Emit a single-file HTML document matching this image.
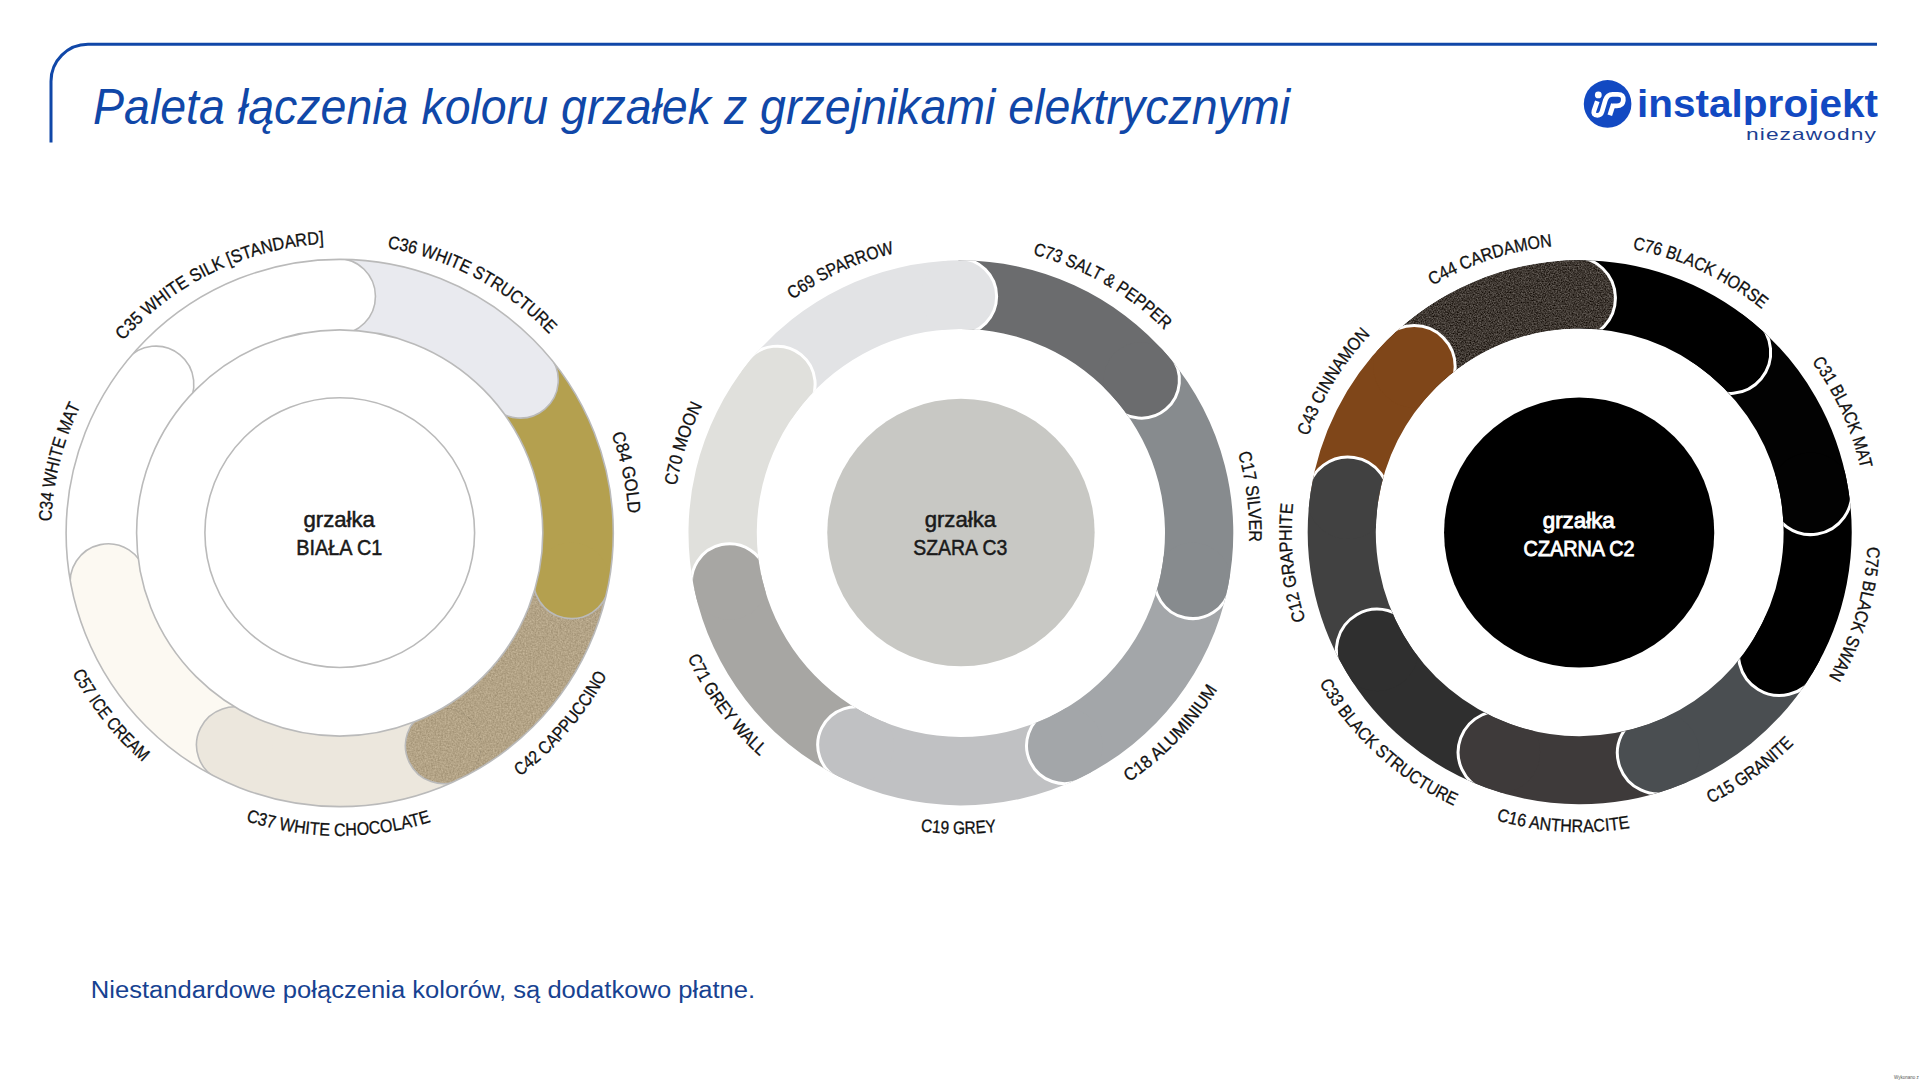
<!DOCTYPE html>
<html lang="pl"><head><meta charset="utf-8"><title>Paleta łączenia koloru grzałek z grzejnikami elektrycznymi</title>
<style>
html,body{margin:0;padding:0;background:#fff;width:1920px;height:1080px;overflow:hidden}
svg{display:block}
</style></head><body>
<svg width="1920" height="1080" viewBox="0 0 1920 1080">
<defs>
<filter id="nzA" x="0" y="0" width="1" height="1" color-interpolation-filters="sRGB">
<feTurbulence type="fractalNoise" baseFrequency="0.75" numOctaves="2" seed="7" result="t"/>
<feColorMatrix in="t" type="matrix" values="1 0 0 0 0 1 0 0 0 0 1 0 0 0 0 0 0 0 0 1" result="g"/>
<feComposite in="SourceGraphic" in2="g" operator="arithmetic" k1="0" k2="1" k3="0.55" k4="-0.275" result="m"/>
<feComposite in="m" in2="SourceGraphic" operator="in"/>
</filter>
<filter id="nzB" x="0" y="0" width="1" height="1" color-interpolation-filters="sRGB">
<feTurbulence type="fractalNoise" baseFrequency="0.6" numOctaves="2" seed="3" result="t"/>
<feColorMatrix in="t" type="matrix" values="1 0 0 0 0 1 0 0 0 0 1 0 0 0 0 0 0 0 0 1" result="g"/>
<feComposite in="SourceGraphic" in2="g" operator="arithmetic" k1="0" k2="1" k3="0.22" k4="-0.11" result="m"/>
<feComposite in="m" in2="SourceGraphic" operator="in"/>
</filter>
</defs>
<rect width="1920" height="1080" fill="#fff"/>
<path d="M51,142.5 L51,81.3 A37,37 0 0 1 88,44.3 L1877,44.3" fill="none" stroke="#1047a8" stroke-width="3"/>
<text x="93" y="124" font-family="Liberation Sans, sans-serif" font-style="italic" font-size="49.5" fill="#1047a8" textLength="1197" lengthAdjust="spacingAndGlyphs">Paleta łączenia koloru grzałek z grzejnikami elektrycznymi</text>

<circle cx="1607.6" cy="103.9" r="23.8" fill="#1249c2"/>
<circle cx="1598.3" cy="94.9" r="3.4" fill="#fff"/>
<path d="M1597.3,101.2 L1594,110.8 Q1592.7,115.3 1597.4,115.3 Q1600.9,115.3 1602,111.6 L1605.3,100.3 Q1607.2,94.3 1612.6,94.3 L1617.8,94.3 Q1624,94.3 1623.3,100.4 Q1622.6,105.8 1616.8,105.8 L1612.6,105.8" fill="none" stroke="#fff" stroke-width="4.8" stroke-linejoin="round"/>
<path d="M1613.4,104 L1609.8,115.3" fill="none" stroke="#fff" stroke-width="4.8"/>

<text x="1637" y="117.4" font-family="Liberation Sans, sans-serif" font-weight="bold" font-size="38.5" fill="#1249c2" textLength="241" lengthAdjust="spacingAndGlyphs">instalprojekt</text>
<text x="1746" y="139.6" font-family="Liberation Sans, sans-serif" font-size="16.5" letter-spacing="0.8" fill="#1d3f92" textLength="131" lengthAdjust="spacingAndGlyphs">niezawodny</text>
<clipPath id="d1clip"><path clip-rule="evenodd" d="M66.10,533.00 a273.6,273.6 0 1 0 547.20,0 a273.6,273.6 0 1 0 -547.20,0 Z M136.60,533.00 a203.1,203.1 0 1 0 406.20,0 a203.1,203.1 0 1 0 -406.20,0 Z"/></clipPath>
<path d="M337.07,259.41 A273.6,273.6 0 0 1 548.52,356.22 L494.71,401.77 A203.1,203.1 0 0 0 337.75,329.91 Z" fill="#e9eaef"/>
<path d="M548.52,356.22 A273.6,273.6 0 0 1 607.71,588.01 L538.65,573.84 A203.1,203.1 0 0 0 494.71,401.77 Z" fill="#b4a04f"/>
<path d="M607.71,588.01 A273.6,273.6 0 0 1 459.64,778.91 L428.73,715.55 A203.1,203.1 0 0 0 538.65,573.84 Z" fill="#b3a386" filter="url(#nzB)"/>
<path d="M459.64,778.91 A273.6,273.6 0 0 1 218.05,778.07 L249.39,714.92 A203.1,203.1 0 0 0 428.73,715.55 Z" fill="#ece7dd"/>
<path d="M218.05,778.07 A273.6,273.6 0 0 1 71.98,589.42 L140.96,574.88 A203.1,203.1 0 0 0 249.39,714.92 Z" fill="#fcf9f2"/>
<path d="M71.98,589.42 A273.6,273.6 0 0 1 127.07,360.82 L181.86,405.19 A203.1,203.1 0 0 0 140.96,574.88 Z" fill="#ffffff"/>
<path d="M127.07,360.82 A273.6,273.6 0 0 1 337.07,259.41 L337.75,329.91 A203.1,203.1 0 0 0 181.86,405.19 Z" fill="#ffffff"/>
<g clip-path="url(#d1clip)">
<circle cx="520.28" cy="380.13" r="38" fill="#e9eaef"/>
<path d="M549.28,355.57 A38,38 0 0 1 544.83,409.13 A38,38 0 0 1 491.28,404.68" fill="none" stroke="#bababa" stroke-width="1.6"/>
<circle cx="571.47" cy="580.58" r="38" fill="#b4a04f"/>
<path d="M608.69,588.22 A38,38 0 0 1 563.83,617.80 A38,38 0 0 1 534.24,572.93" fill="none" stroke="#bababa" stroke-width="1.6"/>
<circle cx="443.42" cy="745.65" r="38" fill="#b3a386" filter="url(#nzB)"/>
<path d="M460.08,779.81 A38,38 0 0 1 409.26,762.31 A38,38 0 0 1 426.76,711.50" fill="none" stroke="#bababa" stroke-width="1.6"/>
<circle cx="234.50" cy="744.93" r="38" fill="#ece7dd"/>
<path d="M217.60,778.96 A38,38 0 0 1 200.46,728.03 A38,38 0 0 1 251.40,710.89" fill="none" stroke="#bababa" stroke-width="1.6"/>
<circle cx="108.18" cy="581.79" r="38" fill="#fcf9f2"/>
<path d="M71.00,589.62 A38,38 0 0 1 100.35,544.60 A38,38 0 0 1 145.37,573.95" fill="none" stroke="#bababa" stroke-width="1.6"/>
<circle cx="155.83" cy="384.10" r="38" fill="#ffffff"/>
<path d="M126.30,360.19 A38,38 0 0 1 179.74,354.57 A38,38 0 0 1 185.36,408.02" fill="none" stroke="#bababa" stroke-width="1.6"/>
<circle cx="337.43" cy="296.41" r="38" fill="#ffffff"/>
<path d="M337.06,258.41 A38,38 0 0 1 375.43,296.05 A38,38 0 0 1 337.79,334.41" fill="none" stroke="#bababa" stroke-width="1.6"/>
</g>
<circle cx="339.7" cy="533.0" r="273.6" fill="none" stroke="#bababa" stroke-width="1.6"/>
<circle cx="339.7" cy="533.0" r="203.1" fill="none" stroke="#bababa" stroke-width="1.6"/>
<circle cx="339.75" cy="532.65" r="134.85" fill="#ffffff" stroke="#bababa" stroke-width="1.6"/>
<text x="339.2" y="527" text-anchor="middle" font-family='"Liberation Sans", sans-serif' font-size="21.5" fill="#1a1a1a" stroke="#1a1a1a" stroke-width="0.5" textLength="71.5" lengthAdjust="spacingAndGlyphs">grzałka</text>
<text x="339.35" y="554.7" text-anchor="middle" font-family='"Liberation Sans", sans-serif' font-size="21.5" fill="#1a1a1a" stroke="#1a1a1a" stroke-width="0.5" textLength="86" lengthAdjust="spacingAndGlyphs">BIAŁA C1</text>
<path id="d1l0" d="M84.00,397.04 A289.6,289.6 0 0 1 595.40,668.96" fill="none"/>
<text font-family='"Liberation Sans", sans-serif' font-size="18" fill="#111" stroke="#111" stroke-width="0.3"><textPath href="#d1l0" startOffset="50%" text-anchor="middle" textLength="187.0" lengthAdjust="spacingAndGlyphs">C36 WHITE STRUCTURE</textPath></text>
<path id="d1l1" d="M279.86,249.65 A289.6,289.6 0 0 1 399.54,816.35" fill="none"/>
<text font-family='"Liberation Sans", sans-serif' font-size="18" fill="#111" stroke="#111" stroke-width="0.3"><textPath href="#d1l1" startOffset="50%" text-anchor="middle" textLength="81.6" lengthAdjust="spacingAndGlyphs">C84 GOLD</textPath></text>
<path id="d1l2" d="M142.04,762.39 A302.8,302.8 0 0 0 537.36,303.61" fill="none"/>
<text font-family='"Liberation Sans", sans-serif' font-size="18" fill="#111" stroke="#111" stroke-width="0.3"><textPath href="#d1l2" startOffset="50%" text-anchor="middle" textLength="134.6" lengthAdjust="spacingAndGlyphs">C42 CAPPUCCINO</textPath></text>
<path id="d1l3" d="M36.90,531.68 A302.8,302.8 0 0 0 642.50,534.32" fill="none"/>
<text font-family='"Liberation Sans", sans-serif' font-size="18" fill="#111" stroke="#111" stroke-width="0.3"><textPath href="#d1l3" startOffset="50%" text-anchor="middle" textLength="188.5" lengthAdjust="spacingAndGlyphs">C37 WHITE CHOCOLATE</textPath></text>
<path id="d1l4" d="M151.20,296.03 A302.8,302.8 0 0 0 528.20,769.97" fill="none"/>
<text font-family='"Liberation Sans", sans-serif' font-size="18" fill="#111" stroke="#111" stroke-width="0.3"><textPath href="#d1l4" startOffset="50%" text-anchor="middle" textLength="114.0" lengthAdjust="spacingAndGlyphs">C57 ICE CREAM</textPath></text>
<path id="d1l5" d="M268.66,813.75 A289.6,289.6 0 0 1 410.74,252.25" fill="none"/>
<text font-family='"Liberation Sans", sans-serif' font-size="18" fill="#111" stroke="#111" stroke-width="0.3"><textPath href="#d1l5" startOffset="50%" text-anchor="middle" textLength="120.3" lengthAdjust="spacingAndGlyphs">C34 WHITE MAT</textPath></text>
<path id="d1l6" d="M78.86,658.82 A289.6,289.6 0 0 1 600.54,407.18" fill="none"/>
<text font-family='"Liberation Sans", sans-serif' font-size="18" fill="#111" stroke="#111" stroke-width="0.3"><textPath href="#d1l6" startOffset="50%" text-anchor="middle" textLength="228.9" lengthAdjust="spacingAndGlyphs">C35 WHITE SILK [STANDARD]</textPath></text>
<clipPath id="d2clip"><path clip-rule="evenodd" d="M688.50,533.00 a272.4,272.4 0 1 0 544.80,0 a272.4,272.4 0 1 0 -544.80,0 Z M756.80,533.00 a204.1,204.1 0 1 0 408.20,0 a204.1,204.1 0 1 0 -408.20,0 Z"/></clipPath>
<path d="M958.29,260.61 A272.4,272.4 0 0 1 1168.80,357.00 L1116.68,401.13 A204.1,204.1 0 0 0 958.94,328.91 Z" fill="#6b6c6e"/>
<path d="M1168.80,357.00 A272.4,272.4 0 0 1 1227.74,587.77 L1160.83,574.04 A204.1,204.1 0 0 0 1116.68,401.13 Z" fill="#878b8e"/>
<path d="M1227.74,587.77 A272.4,272.4 0 0 1 1080.31,777.83 L1050.37,716.44 A204.1,204.1 0 0 0 1160.83,574.04 Z" fill="#a3a6a9"/>
<path d="M1080.31,777.83 A272.4,272.4 0 0 1 839.78,776.99 L870.15,715.81 A204.1,204.1 0 0 0 1050.37,716.44 Z" fill="#c0c1c3"/>
<path d="M839.78,776.99 A272.4,272.4 0 0 1 694.35,589.17 L761.19,575.09 A204.1,204.1 0 0 0 870.15,715.81 Z" fill="#a7a6a3"/>
<path d="M694.35,589.17 A272.4,272.4 0 0 1 749.21,361.57 L802.28,404.56 A204.1,204.1 0 0 0 761.19,575.09 Z" fill="#e0e0dc"/>
<path d="M749.21,361.57 A272.4,272.4 0 0 1 958.29,260.61 L958.94,328.91 A204.1,204.1 0 0 0 802.28,404.56 Z" fill="#e2e3e5"/>
<g clip-path="url(#d2clip)">
<circle cx="1141.40" cy="380.19" r="38" fill="#6b6c6e"/>
<path d="M1170.41,355.64 A38,38 0 0 1 1165.96,409.19 A38,38 0 0 1 1112.40,404.74" fill="none" stroke="#ffffff" stroke-width="3"/>
<circle cx="1192.57" cy="580.55" r="38" fill="#878b8e"/>
<path d="M1229.79,588.20 A38,38 0 0 1 1184.93,617.78 A38,38 0 0 1 1155.35,572.91" fill="none" stroke="#ffffff" stroke-width="3"/>
<circle cx="1064.57" cy="745.56" r="38" fill="#a3a6a9"/>
<path d="M1081.23,779.72 A38,38 0 0 1 1030.42,762.22 A38,38 0 0 1 1047.92,711.41" fill="none" stroke="#ffffff" stroke-width="3"/>
<circle cx="855.74" cy="744.84" r="38" fill="#c0c1c3"/>
<path d="M838.85,778.87 A38,38 0 0 1 821.71,727.94 A38,38 0 0 1 872.64,710.80" fill="none" stroke="#ffffff" stroke-width="3"/>
<circle cx="729.48" cy="581.77" r="38" fill="#a7a6a3"/>
<path d="M692.30,589.60 A38,38 0 0 1 721.65,544.58 A38,38 0 0 1 766.67,573.93" fill="none" stroke="#ffffff" stroke-width="3"/>
<circle cx="777.10" cy="384.17" r="38" fill="#e0e0dc"/>
<path d="M747.57,360.25 A38,38 0 0 1 801.02,354.63 A38,38 0 0 1 806.64,408.08" fill="none" stroke="#ffffff" stroke-width="3"/>
<circle cx="958.63" cy="296.51" r="38" fill="#e2e3e5"/>
<path d="M958.27,258.51 A38,38 0 0 1 996.63,296.15 A38,38 0 0 1 958.99,334.51" fill="none" stroke="#ffffff" stroke-width="3"/>
</g>
<circle cx="960.95" cy="532.5" r="133.7" fill="#c8c8c4"/>
<text x="960.4" y="527" text-anchor="middle" font-family='"Liberation Sans", sans-serif' font-size="21.5" fill="#1a1a1a" stroke="#1a1a1a" stroke-width="0.5" textLength="71.5" lengthAdjust="spacingAndGlyphs">grzałka</text>
<text x="960.25" y="554.7" text-anchor="middle" font-family='"Liberation Sans", sans-serif' font-size="21.5" fill="#1a1a1a" stroke="#1a1a1a" stroke-width="0.5" textLength="94" lengthAdjust="spacingAndGlyphs">SZARA C3</text>
<path id="d2l0" d="M710.64,389.67 A288.4,288.4 0 0 1 1211.16,676.33" fill="none"/>
<text font-family='"Liberation Sans", sans-serif' font-size="18" fill="#111" stroke="#111" stroke-width="0.3"><textPath href="#d2l0" startOffset="50%" text-anchor="middle" textLength="154.0" lengthAdjust="spacingAndGlyphs">C73 SALT &amp; PEPPER</textPath></text>
<path id="d2l1" d="M925.00,246.84 A288.4,288.4 0 0 1 996.80,819.16" fill="none"/>
<text font-family='"Liberation Sans", sans-serif' font-size="18" fill="#111" stroke="#111" stroke-width="0.3"><textPath href="#d2l1" startOffset="50%" text-anchor="middle" textLength="90.1" lengthAdjust="spacingAndGlyphs">C17 SILVER</textPath></text>
<path id="d2l2" d="M752.63,751.14 A301.59999999999997,301.59999999999997 0 0 0 1169.17,314.86" fill="none"/>
<text font-family='"Liberation Sans", sans-serif' font-size="18" fill="#111" stroke="#111" stroke-width="0.3"><textPath href="#d2l2" startOffset="50%" text-anchor="middle" textLength="129.1" lengthAdjust="spacingAndGlyphs">C18 ALUMINIUM</textPath></text>
<path id="d2l3" d="M659.31,530.63 A301.59999999999997,301.59999999999997 0 0 0 1262.49,535.37" fill="none"/>
<text font-family='"Liberation Sans", sans-serif' font-size="18" fill="#111" stroke="#111" stroke-width="0.3"><textPath href="#d2l3" startOffset="50%" text-anchor="middle" textLength="76.2" lengthAdjust="spacingAndGlyphs">C19 GREY</textPath></text>
<path id="d2l4" d="M782.56,289.78 A301.59999999999997,301.59999999999997 0 0 0 1139.24,776.22" fill="none"/>
<text font-family='"Liberation Sans", sans-serif' font-size="18" fill="#111" stroke="#111" stroke-width="0.3"><textPath href="#d2l4" startOffset="50%" text-anchor="middle" textLength="123.5" lengthAdjust="spacingAndGlyphs">C71 GREY WALL</textPath></text>
<path id="d2l5" d="M872.50,807.52 A288.4,288.4 0 0 1 1049.30,258.48" fill="none"/>
<text font-family='"Liberation Sans", sans-serif' font-size="18" fill="#111" stroke="#111" stroke-width="0.3"><textPath href="#d2l5" startOffset="50%" text-anchor="middle" textLength="85.0" lengthAdjust="spacingAndGlyphs">C70 MOON</textPath></text>
<path id="d2l6" d="M698.68,653.06 A288.4,288.4 0 0 1 1223.12,412.94" fill="none"/>
<text font-family='"Liberation Sans", sans-serif' font-size="18" fill="#111" stroke="#111" stroke-width="0.3"><textPath href="#d2l6" startOffset="50%" text-anchor="middle" textLength="112.7" lengthAdjust="spacingAndGlyphs">C69 SPARROW</textPath></text>
<clipPath id="d3clip"><path clip-rule="evenodd" d="M1307.70,532.30 a272,272 0 1 0 544.00,0 a272,272 0 1 0 -544.00,0 Z M1375.80,532.30 a203.9,203.9 0 1 0 407.80,0 a203.9,203.9 0 1 0 -407.80,0 Z"/></clipPath>
<path d="M1573.58,260.37 A272,272 0 0 1 1753.88,323.39 L1710.27,375.69 A203.9,203.9 0 0 0 1575.11,328.45 Z" fill="#000000"/>
<path d="M1753.88,323.39 A272,272 0 0 1 1847.95,487.31 L1780.79,498.58 A203.9,203.9 0 0 0 1710.27,375.69 Z" fill="#020202"/>
<path d="M1847.95,487.31 A272,272 0 0 1 1811.77,674.18 L1753.66,638.66 A203.9,203.9 0 0 0 1780.79,498.58 Z" fill="#000000"/>
<path d="M1811.77,674.18 A272,272 0 0 1 1671.08,788.49 L1648.20,724.35 A203.9,203.9 0 0 0 1753.66,638.66 Z" fill="#4a4e51"/>
<path d="M1671.08,788.49 A272,272 0 0 1 1486.14,787.70 L1509.56,723.76 A203.9,203.9 0 0 0 1648.20,724.35 Z" fill="#3e3a3a"/>
<path d="M1486.14,787.70 A272,272 0 0 1 1344.69,669.24 L1403.53,634.96 A203.9,203.9 0 0 0 1509.56,723.76 Z" fill="#2f2f2f"/>
<path d="M1344.69,669.24 A272,272 0 0 1 1310.62,492.52 L1377.99,502.48 A203.9,203.9 0 0 0 1403.53,634.96 Z" fill="#414141"/>
<path d="M1310.62,492.52 A272,272 0 0 1 1387.47,339.87 L1435.60,388.05 A203.9,203.9 0 0 0 1377.99,502.48 Z" fill="#7f4619"/>
<path d="M1387.47,339.87 A272,272 0 0 1 1573.58,260.37 L1575.11,328.45 A203.9,203.9 0 0 0 1435.60,388.05 Z" fill="#3f3832" filter="url(#nzA)"/>
<g clip-path="url(#d3clip)">
<circle cx="1729.68" cy="352.42" r="41" fill="#000000"/>
<path d="M1755.93,320.93 A41,41 0 0 1 1761.17,378.68 A41,41 0 0 1 1703.42,383.91" fill="none" stroke="#ffffff" stroke-width="3"/>
<circle cx="1810.67" cy="493.57" r="41" fill="#020202"/>
<path d="M1851.11,486.78 A41,41 0 0 1 1817.46,534.00 A41,41 0 0 1 1770.24,500.35" fill="none" stroke="#ffffff" stroke-width="3"/>
<circle cx="1779.52" cy="654.46" r="41" fill="#000000"/>
<path d="M1814.50,675.85 A41,41 0 0 1 1758.13,689.44 A41,41 0 0 1 1744.54,633.07" fill="none" stroke="#ffffff" stroke-width="3"/>
<circle cx="1658.38" cy="752.89" r="41" fill="#4a4e51"/>
<path d="M1672.15,791.51 A41,41 0 0 1 1619.76,766.66 A41,41 0 0 1 1644.60,714.27" fill="none" stroke="#ffffff" stroke-width="3"/>
<circle cx="1499.14" cy="752.21" r="41" fill="#3e3a3a"/>
<path d="M1485.03,790.71 A41,41 0 0 1 1460.64,738.10 A41,41 0 0 1 1513.24,713.71" fill="none" stroke="#ffffff" stroke-width="3"/>
<circle cx="1377.35" cy="650.21" r="41" fill="#2f2f2f"/>
<path d="M1341.92,670.86 A41,41 0 0 1 1356.71,614.79 A41,41 0 0 1 1412.77,629.57" fill="none" stroke="#ffffff" stroke-width="3"/>
<circle cx="1348.02" cy="498.05" r="41" fill="#414141"/>
<path d="M1307.46,492.05 A41,41 0 0 1 1354.01,457.49 A41,41 0 0 1 1388.58,504.04" fill="none" stroke="#ffffff" stroke-width="3"/>
<circle cx="1414.18" cy="366.61" r="41" fill="#7f4619"/>
<path d="M1385.21,337.60 A41,41 0 0 1 1443.19,337.63 A41,41 0 0 1 1443.16,395.62" fill="none" stroke="#ffffff" stroke-width="3"/>
<circle cx="1574.43" cy="298.16" r="41" fill="#3f3832" filter="url(#nzA)"/>
<path d="M1573.50,257.17 A41,41 0 0 1 1615.42,297.24 A41,41 0 0 1 1575.35,339.15" fill="none" stroke="#ffffff" stroke-width="3"/>
</g>
<circle cx="1579.15" cy="532.5" r="135.1" fill="#000000"/>
<text x="1578.75" y="527.8" text-anchor="middle" font-family='"Liberation Sans", sans-serif' font-size="21.5" fill="#ffffff" stroke="#ffffff" stroke-width="0.9" textLength="72" lengthAdjust="spacingAndGlyphs">grzałka</text>
<text x="1579.1" y="555.9" text-anchor="middle" font-family='"Liberation Sans", sans-serif' font-size="21.5" fill="#ffffff" stroke="#ffffff" stroke-width="0.9" textLength="111" lengthAdjust="spacingAndGlyphs">CZARNA C2</text>
<path id="d3l0" d="M1318.50,410.97 A288,288 0 0 1 1840.90,653.63" fill="none"/>
<text font-family='"Liberation Sans", sans-serif' font-size="18" fill="#111" stroke="#111" stroke-width="0.3"><textPath href="#d3l0" startOffset="50%" text-anchor="middle" textLength="144.3" lengthAdjust="spacingAndGlyphs">C76 BLACK HORSE</textPath></text>
<path id="d3l1" d="M1460.27,270.23 A288,288 0 0 1 1699.13,794.37" fill="none"/>
<text font-family='"Liberation Sans", sans-serif' font-size="18" fill="#111" stroke="#111" stroke-width="0.3"><textPath href="#d3l1" startOffset="50%" text-anchor="middle" textLength="118.6" lengthAdjust="spacingAndGlyphs">C31 BLACK MAT</textPath></text>
<path id="d3l2" d="M1661.50,256.16 A288,288 0 0 1 1497.90,808.44" fill="none"/>
<text font-family='"Liberation Sans", sans-serif' font-size="18" fill="#111" stroke="#111" stroke-width="0.3"><textPath href="#d3l2" startOffset="50%" text-anchor="middle" textLength="137.7" lengthAdjust="spacingAndGlyphs">C75 BLACK SWAN</textPath></text>
<path id="d3l3" d="M1334.64,707.42 A301.2,301.2 0 0 0 1824.76,357.18" fill="none"/>
<text font-family='"Liberation Sans", sans-serif' font-size="18" fill="#111" stroke="#111" stroke-width="0.3"><textPath href="#d3l3" startOffset="50%" text-anchor="middle" textLength="103.4" lengthAdjust="spacingAndGlyphs">C15 GRANITE</textPath></text>
<path id="d3l4" d="M1278.98,515.36 A301.2,301.2 0 0 0 1880.42,549.24" fill="none"/>
<text font-family='"Liberation Sans", sans-serif' font-size="18" fill="#111" stroke="#111" stroke-width="0.3"><textPath href="#d3l4" startOffset="50%" text-anchor="middle" textLength="135.2" lengthAdjust="spacingAndGlyphs">C16 ANTHRACITE</textPath></text>
<path id="d3l5" d="M1356.92,329.59 A301.2,301.2 0 0 0 1802.48,735.01" fill="none"/>
<text font-family='"Liberation Sans", sans-serif' font-size="18" fill="#111" stroke="#111" stroke-width="0.3"><textPath href="#d3l5" startOffset="50%" text-anchor="middle" textLength="184.9" lengthAdjust="spacingAndGlyphs">C33 BLACK STRUCTURE</textPath></text>
<path id="d3l6" d="M1610.05,818.70 A288,288 0 0 1 1549.35,245.90" fill="none"/>
<text font-family='"Liberation Sans", sans-serif' font-size="18" fill="#111" stroke="#111" stroke-width="0.3"><textPath href="#d3l6" startOffset="50%" text-anchor="middle" textLength="118.1" lengthAdjust="spacingAndGlyphs">C12 GRAPHITE</textPath></text>
<path id="d3l7" d="M1429.43,777.99 A288,288 0 0 1 1729.97,286.61" fill="none"/>
<text font-family='"Liberation Sans", sans-serif' font-size="18" fill="#111" stroke="#111" stroke-width="0.3"><textPath href="#d3l7" startOffset="50%" text-anchor="middle" textLength="120.1" lengthAdjust="spacingAndGlyphs">C43 CINNAMON</textPath></text>
<path id="d3l8" d="M1306.03,622.01 A288,288 0 0 1 1853.37,442.59" fill="none"/>
<text font-family='"Liberation Sans", sans-serif' font-size="18" fill="#111" stroke="#111" stroke-width="0.3"><textPath href="#d3l8" startOffset="50%" text-anchor="middle" textLength="127.2" lengthAdjust="spacingAndGlyphs">C44 CARDAMON</textPath></text>
<text x="90.8" y="997.6" font-family="Liberation Sans, sans-serif" font-size="23.5" fill="#174291" textLength="664.3" lengthAdjust="spacingAndGlyphs">Niestandardowe połączenia kolorów, są dodatkowo płatne.</text>
<text x="1894" y="1078.5" font-family="Liberation Sans, sans-serif" font-size="4.5" fill="#555">Wykonano z</text>
</svg>
</body></html>
